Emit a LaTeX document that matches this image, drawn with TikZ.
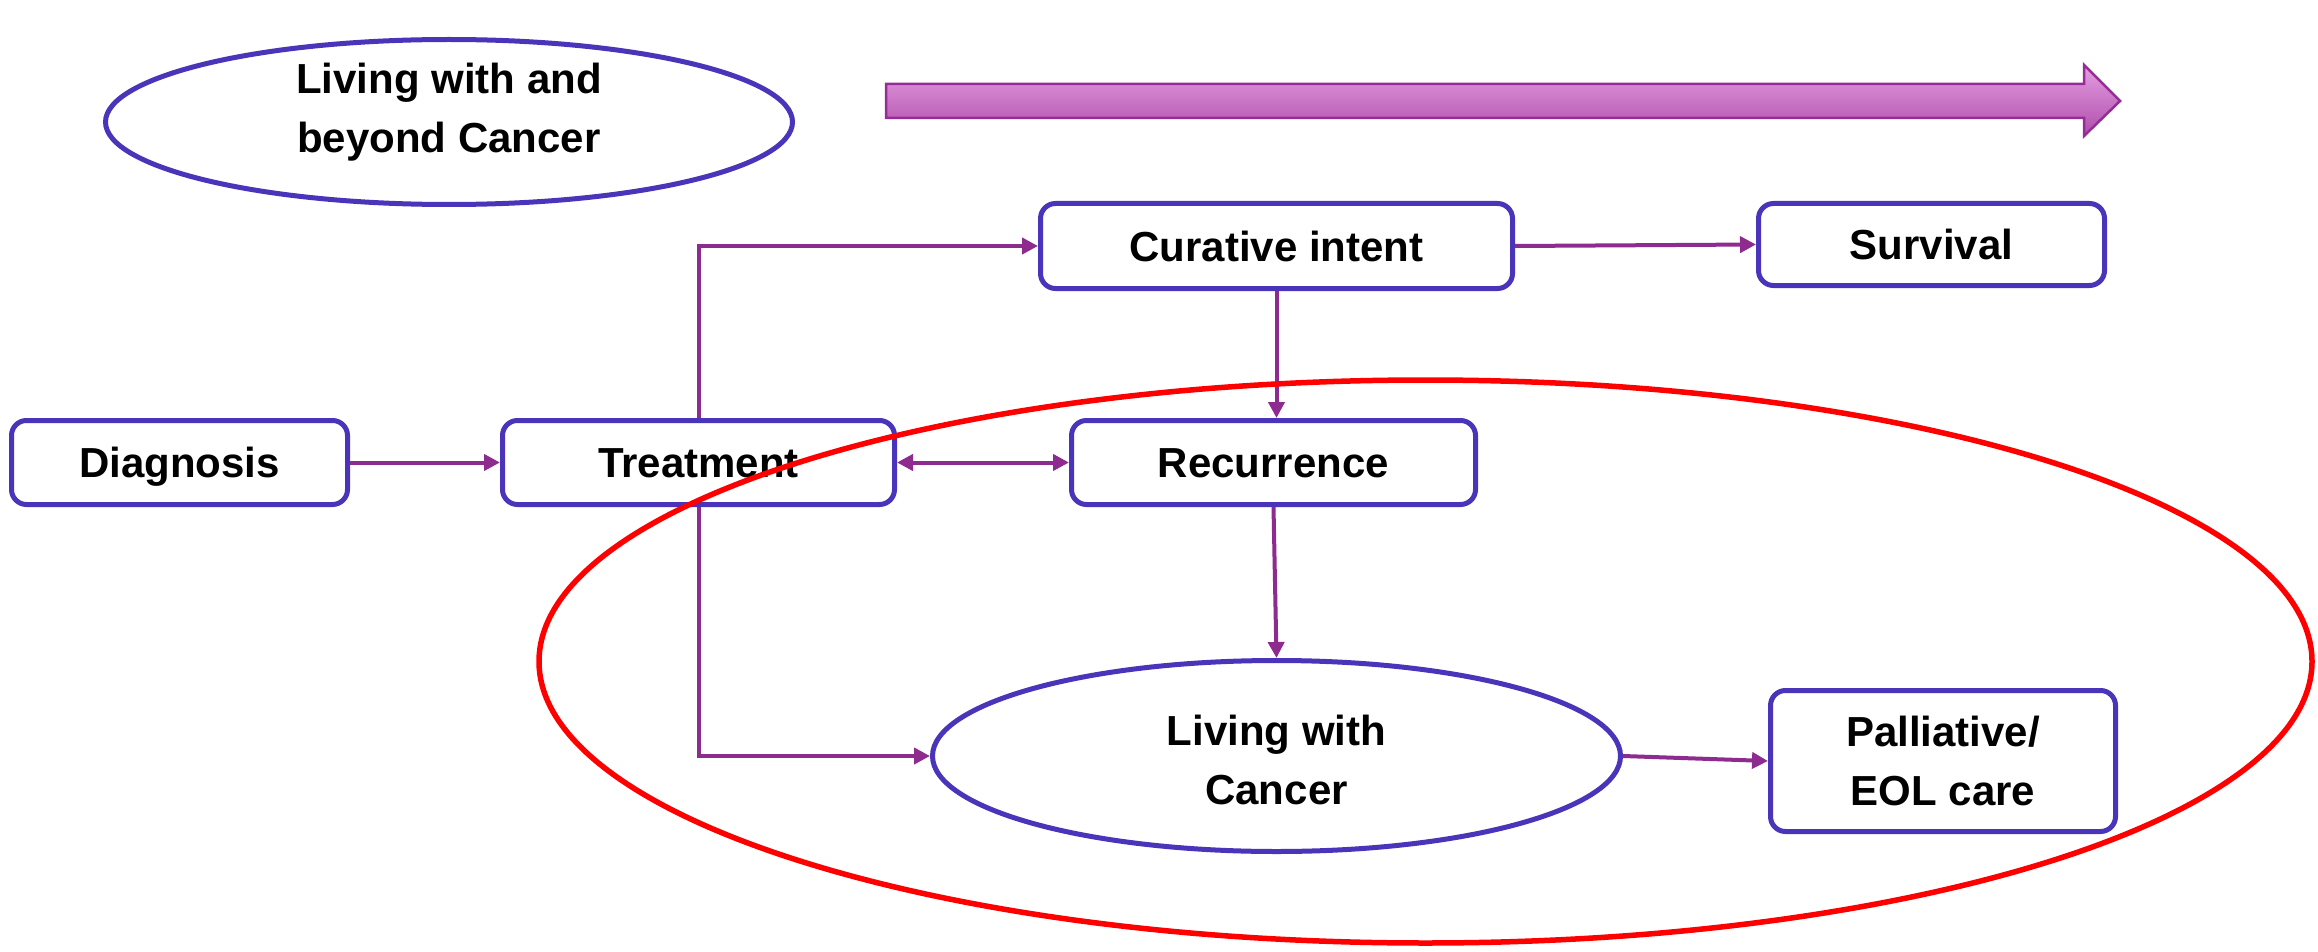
\documentclass[tikz,border=0pt]{standalone}
\usepackage{fontspec}
\setmainfont{Liberation Sans}
\usetikzlibrary{arrows.meta,shapes.geometric}
\definecolor{boxblue}{HTML}{4A34B9}
\definecolor{connc}{HTML}{8E2B8E}
\definecolor{arrtop}{HTML}{E59EE1}
\definecolor{arrbot}{HTML}{AE4DAC}
\definecolor{arredge}{HTML}{962C96}
\definecolor{ringred}{HTML}{FF0000}
\begin{document}
\begin{tikzpicture}[x=1pt,y=-1pt,
  txt/.style={font=\fontsize{42}{59}\selectfont\bfseries, align=center, text=black, inner sep=0pt},
  one/.style={text height=30pt, text depth=0pt},
  two/.style={text depth=0pt},
  stepbox/.style={txt, draw=boxblue, line width=5pt, rounded corners=15pt, fill=white},
  oval/.style={ellipse, draw=boxblue, line width=5pt, fill=white, inner sep=0pt},
  conn/.style={draw=connc, line width=4pt, -{Triangle[length=16pt,width=16pt]}}
]
\useasboundingbox (0,0) rectangle (2318,952);

% big timeline arrow
\path[top color=arrtop, bottom color=arrbot, draw=arredge, line width=2.5pt, line join=miter]
  (886,84) -- (2084,84) -- (2084,65) -- (2120,101) -- (2084,136) -- (2084,118) -- (886,118) -- cycle;

% top ellipse
\node[oval, minimum width=687pt, minimum height=165pt] (lwb) at (449,122) {};
\node[txt, two] (lwbtxt) at (449,108) {Living with and\\beyond Cancer};

% boxes
\node[stepbox, one, minimum width=336pt, minimum height=84pt] (diag) at (179.5,462.5) {Diagnosis};
\node[stepbox, one, minimum width=392pt, minimum height=84pt] (treat) at (698.5,462.5) {Treatment};
\node[stepbox, one, minimum width=472pt, minimum height=85pt] (cur) at (1276.5,246) {Curative intent};
\node[stepbox, one, minimum width=346pt, minimum height=82pt] (surv) at (1931.5,244.5) {Survival};
\node[stepbox, one, minimum width=404pt, minimum height=84pt] (rec) at (1273.5,462.5) {Recurrence};
\node[stepbox, two, minimum width=345pt, minimum height=141pt] (pall) at (1943,761) {Palliative/\\EOL care};

% living with cancer ellipse
\node[oval, minimum width=688pt, minimum height=191pt] (liv) at (1276.5,756) {};
\node[txt, two] (livtxt) at (1276.5,760) {Living with\\Cancer};

% connectors
\draw[conn] (diag.east) -- (treat.west);
\draw[conn] (treat.north) |- (cur.west);
\draw[conn] (treat.south) |- (liv.west);
\draw[conn, {Triangle[length=16pt,width=16pt]}-{Triangle[length=16pt,width=16pt]}] (treat.east) -- (rec.west);
\draw[conn] (cur.south) -- (cur.south |- rec.north);
\draw[conn] (rec.south) -- (liv.north);
\draw[conn] (cur.east) -- (surv.west);
\draw[conn] (liv.east) -- (pall.west);

% red ring
\draw[ringred, line width=5.5pt] (1425.5,661.5) ellipse [x radius=886.5pt, y radius=281.5pt];
\end{tikzpicture}
\end{document}
